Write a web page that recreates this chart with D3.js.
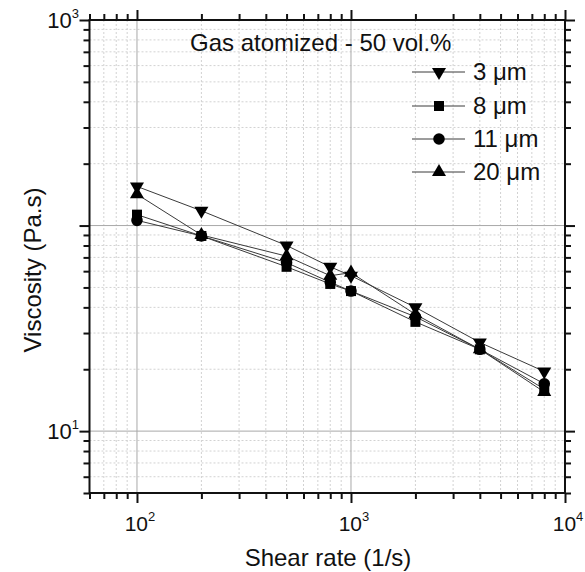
<!DOCTYPE html>
<html lang="en">
  <head>
    <meta charset="UTF-8" />
    <title>Viscosity vs shear rate</title>
    <script src="https://d3js.org/d3.v7.min.js"></script>
    <style>
      body {
        margin: 0;
        background: #fff;
      }
      text {
        font-family: "Liberation Sans", Arial, sans-serif;
        fill: #111;
      }
      .grid-major {
        stroke: #a8a8a8;
        stroke-width: 1px;
      }
      .grid-minor {
        stroke: #d2d2d2;
        stroke-width: 1px;
        stroke-dasharray: 2, 2;
      }
      .series {
        fill: none;
        stroke: #3a3a3a;
        stroke-width: 1px;
      }
    </style>
  </head>
  <body>
    <svg width="585" height="572"></svg>

    <script>
      // shear rate (1/s)
      const shearRate = [100, 200, 500, 800, 1000, 2000, 4000, 8000];

      // viscosity (Pa.s) per powder size
      const visc3um = [155, 118, 80, 63, 57, 40, 27, 19.5];
      const visc8um = [113, 89, 63, 52, 48, 34, 25, 16];
      const visc11um = [106, 89, 66, 53, 48, 36, 25, 17];
      const visc20um = [142, 90, 71, 57, 59, 37, 25, 15.5];

      const seriesNames = ["3 \u03bcm", "8 \u03bcm", "11 \u03bcm", "20 \u03bcm"];
      const seriesShapes = ["down", "square", "circle", "up"];

      const xTickLabels = ["2", "3", "4"]; // exponents of 10
      const yTickLabels = ["3", "1"];

      const plotLeft = 89.5;
      const plotRight = 565;
      const plotTop = 20;
      const plotBottom = 493;

      const svg = d3.select("svg");

      const x = d3.scaleLog().domain([60, 10000]).range([plotLeft, plotRight]);
      const y = d3.scaleLog().domain([5, 1000]).range([plotBottom, plotTop]);

      // minor / major values
      const xMinor = [];
      [10, 100, 1000].forEach((dec) => {
        for (let k = 2; k <= 9; k++) {
          const v = k * dec;
          if (v >= 60 && v < 10000) xMinor.push(v);
        }
      });
      const xMajor = [100, 1000, 10000];
      const yMinor = [];
      [1, 10, 100].forEach((dec) => {
        for (let k = 2; k <= 9; k++) {
          const v = k * dec;
          if (v >= 5 && v < 1000) yMinor.push(v);
        }
      });
      const yMajor = [10, 100, 1000];

      // grid
      const grid = svg.append("g");
      grid
        .selectAll(".gx")
        .data(xMinor)
        .enter()
        .append("line")
        .attr("class", "grid-minor")
        .attr("x1", (d) => x(d))
        .attr("x2", (d) => x(d))
        .attr("y1", plotTop)
        .attr("y2", plotBottom);
      grid
        .selectAll(".gy")
        .data(yMinor)
        .enter()
        .append("line")
        .attr("class", "grid-minor")
        .attr("x1", plotLeft)
        .attr("x2", plotRight)
        .attr("y1", (d) => y(d))
        .attr("y2", (d) => y(d));
      grid
        .selectAll(".gxm")
        .data([100, 1000])
        .enter()
        .append("line")
        .attr("class", "grid-major")
        .attr("x1", (d) => x(d))
        .attr("x2", (d) => x(d))
        .attr("y1", plotTop)
        .attr("y2", plotBottom);
      grid
        .selectAll(".gym")
        .data([10, 100])
        .enter()
        .append("line")
        .attr("class", "grid-major")
        .attr("x1", plotLeft)
        .attr("x2", plotRight)
        .attr("y1", (d) => y(d))
        .attr("y2", (d) => y(d));

      // axes: outer ticks on bottom/left, inner ticks on top/right
      const tickFmt = () => "";
      const axisStyle = (g) => {
        g.select(".domain").remove();
        g.selectAll("line").attr("stroke", "#111").attr("stroke-width", 2);
      };

      function ticks(axisFn, scale, vals, size, pos) {
        svg
          .append("g")
          .attr("transform", pos)
          .call(axisFn(scale).tickValues(vals).tickSize(size).tickFormat(tickFmt))
          .call(axisStyle);
      }
      ticks(d3.axisBottom, x, xMinor, 6, `translate(0,${plotBottom})`);
      ticks(d3.axisBottom, x, xMajor, 10, `translate(0,${plotBottom})`);
      ticks(d3.axisBottom, x, xMinor, -6, `translate(0,${plotTop})`);
      ticks(d3.axisBottom, x, xMajor, -10, `translate(0,${plotTop})`);
      ticks(d3.axisLeft, y, yMinor, 6, `translate(${plotLeft},0)`);
      ticks(d3.axisLeft, y, yMajor, 10, `translate(${plotLeft},0)`);
      ticks(d3.axisLeft, y, yMinor, -6, `translate(${plotRight},0)`);
      ticks(d3.axisLeft, y, yMajor, -10, `translate(${plotRight},0)`);

      svg
        .append("rect")
        .attr("x", plotLeft)
        .attr("y", plotTop)
        .attr("width", plotRight - plotLeft)
        .attr("height", plotBottom - plotTop)
        .attr("fill", "none")
        .attr("stroke", "#111")
        .attr("stroke-width", 2);

      // tick labels
      const xl = svg
        .selectAll(".xl")
        .data(xMajor)
        .enter()
        .append("text")
        .attr("x", (d) => x(d) + 3)
        .attr("y", 531)
        .attr("text-anchor", "middle")
        .attr("font-size", 21);
      xl.append("tspan").text("10");
      xl.append("tspan")
        .attr("dy", -10)
        .attr("font-size", 13)
        .text((d, i) => xTickLabels[i]);

      const yl = svg
        .selectAll(".yl")
        .data([1000, 10])
        .enter()
        .append("text")
        .attr("x", 79)
        .attr("y", (d) => y(d) + 8)
        .attr("text-anchor", "end")
        .attr("font-size", 22);
      yl.append("tspan").text("10");
      yl.append("tspan")
        .attr("dy", -10)
        .attr("font-size", 13)
        .text((d, i) => yTickLabels[i]);

      // axis titles
      svg
        .append("text")
        .attr("x", 328)
        .attr("y", 566)
        .attr("text-anchor", "middle")
        .attr("font-size", 24)
        .text("Shear rate (1/s)");
      svg
        .append("text")
        .attr("transform", `translate(41,270) rotate(-90)`)
        .attr("text-anchor", "middle")
        .attr("font-size", 24)
        .text("Viscosity (Pa.s)");

      svg
        .append("text")
        .attr("x", 190)
        .attr("y", 51)
        .attr("font-size", 24)
        .text("Gas atomized - 50 vol.%");

      // markers
      const sym = {
        down: d3.symbol().type(d3.symbolTriangle).size(85),
        up: d3.symbol().type(d3.symbolTriangle).size(85),
        square: d3.symbol().type(d3.symbolSquare).size(100),
        circle: d3.symbol().type(d3.symbolCircle).size(105),
      };
      function marker(g, shape) {
        return g
          .append("path")
          .attr("d", sym[shape]())
          .attr("fill", "#000")
          .attr("transform", shape === "down" ? "rotate(180)" : null);
      }

      const allSeries = [visc3um, visc8um, visc11um, visc20um];
      const line = d3
        .line()
        .x((d, i) => x(shearRate[i]))
        .y((d) => y(d));

      const plot = svg.append("g");
      allSeries.forEach((vals) => {
        plot.append("path").attr("class", "series").attr("d", line(vals));
      });
      // draw markers in reverse so 3 um sits on top
      allSeries
        .slice()
        .reverse()
        .forEach((vals, ri) => {
          const si = allSeries.length - 1 - ri;
          vals.forEach((v, i) => {
            const g = plot
              .append("g")
              .attr("transform", `translate(${x(shearRate[i])},${y(v)})`);
            marker(g, seriesShapes[si]);
          });
        });

      // legend
      const legendRows = [72, 106, 139, 172];
      const legend = svg.append("g");
      seriesNames.forEach((name, i) => {
        const row = legend.append("g").attr("transform", `translate(0,${legendRows[i]})`);
        row
          .append("line")
          .attr("class", "series")
          .attr("x1", 412)
          .attr("x2", 465)
          .attr("y1", 0)
          .attr("y2", 0);
        const m = row.append("g").attr("transform", "translate(439,0)");
        marker(m, seriesShapes[i]);
        row
          .append("text")
          .attr("x", 473)
          .attr("y", 8)
          .attr("font-size", 24)
          .text(name);
      });
    </script>
  </body>
</html>
